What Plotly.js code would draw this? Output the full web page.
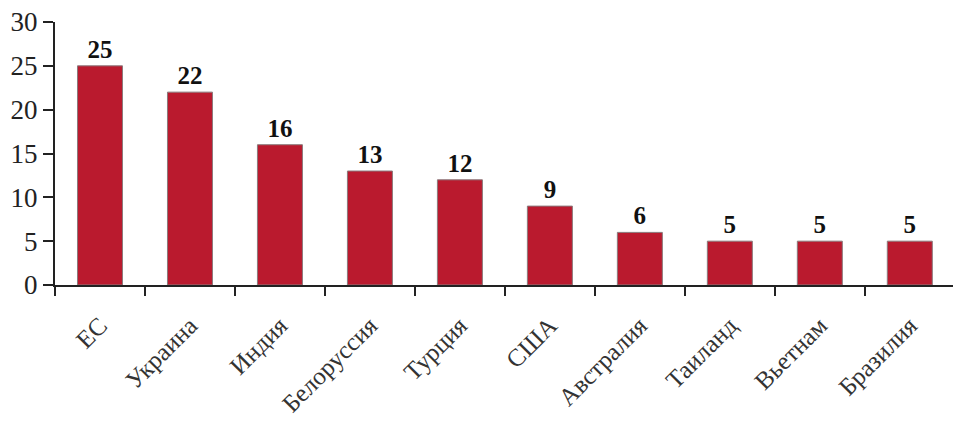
<!DOCTYPE html>
<html><head><meta charset="utf-8">
<script src="https://cdn.plot.ly/plotly-3.0.1.min.js"></script>
<style>html,body{margin:0;padding:0;background:#fff;}#chart{width:953px;height:423px;}</style>
</head><body><div id="chart"></div>
<script>
const countries = ["ЕС","Украина","Индия","Белоруссия","Турция","США","Австралия","Таиланд","Вьетнам","Бразилия"];
const shares = [25,22,16,13,12,9,6,5,5,5];
const yTicks = [0,5,10,15,20,25,30];

const SERIF = "Liberation Serif";

const trace = {
  type: "bar",
  x: countries,
  y: shares,
  width: 0.5,
  marker: {color: "#BA1A2E", line: {color: "#8a7a7c", width: 1}},
  text: shares.map(v => "<b>" + v + "</b>"),
  textposition: "outside",
  cliponaxis: false,
  textfont: {family: SERIF, size: 25, color: "#111"},
  hoverinfo: "skip"
};

const layout = {
  width: 953, height: 423,
  margin: {l: 55, r: 0, t: 22, b: 138},
  paper_bgcolor: "#fff", plot_bgcolor: "#fff",
  showlegend: false,
  font: {family: SERIF},
  xaxis: {
    type: "category",
    range: [-0.5, 9.48],
    tickson: "boundaries",
    ticks: "outside", ticklen: 9, tickwidth: 2, tickcolor: "#222",
    showline: true, linecolor: "#222", linewidth: 2,
    tickangle: -45,
    ticklabelstandoff: 14,
    tickfont: {family: SERIF, size: 25, color: "#333"},
    showgrid: false, zeroline: false, fixedrange: true
  },
  yaxis: {
    range: [0, 30],
    tickmode: "array", tickvals: yTicks, ticktext: yTicks.map(String),
    ticks: "outside", ticklen: 10, tickwidth: 2, tickcolor: "#222",
    showline: true, linecolor: "#222", linewidth: 2,
    tickfont: {family: SERIF, size: 27, color: "#222"},
    showgrid: false, zeroline: false, fixedrange: true
  }
};

Plotly.newPlot("chart", [trace], layout, {displayModeBar: false, staticPlot: true});
</script></body></html>
